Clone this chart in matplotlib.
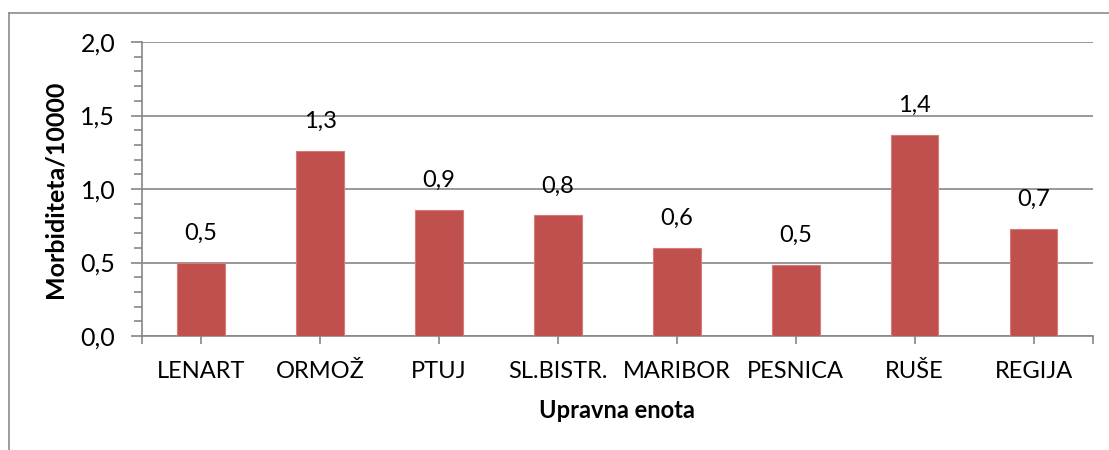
import matplotlib.pyplot as plt
from matplotlib.ticker import MultipleLocator, FixedLocator
from matplotlib.lines import Line2D

plt.rcParams['font.family'] = ['Lato', 'DejaVu Sans']

units = ['LENART', 'ORMOŽ', 'PTUJ', 'SL.BISTR.', 'MARIBOR', 'PESNICA', 'RUŠE', 'REGIJA']
values = [0.50, 1.26, 0.86, 0.82, 0.60, 0.48, 1.37, 0.73]

grey = '#868686'

fig = plt.figure(figsize=(11.09, 4.5), dpi=100)
ax = fig.add_axes([141.7 / 1109, 1 - 336 / 450, (1093 - 141.7) / 1109, (336 - 42) / 450])

x = list(range(len(units)))
bars = ax.bar(x, values, width=0.4, color='#C0504D', edgecolor='#D77B78', linewidth=0.8, zorder=3)

for xi, v in zip(x, values):
    ax.text(xi, v + 0.13, ('%.1f' % v).replace('.', ','), ha='center', va='bottom', fontsize=17)

ax.set_xlim(-0.5, len(units) - 0.5)
ax.set_ylim(0, 2.0)
ax.yaxis.set_major_locator(MultipleLocator(0.5))
ax.yaxis.set_minor_locator(MultipleLocator(0.1))
ax.set_yticklabels([('%.1f' % t).replace('.', ',') for t in ax.get_yticks()])
ax.set_xticks(x)
ax.set_xticklabels(units)
ax.xaxis.set_minor_locator(FixedLocator([-0.5, len(units) - 0.5]))

ax.grid(axis='y', which='major', color=grey, linewidth=1.2, zorder=0)
for s in ['top', 'right']:
    ax.spines[s].set_visible(False)
for s in ['left', 'bottom']:
    ax.spines[s].set_color(grey)
    ax.spines[s].set_linewidth(1.2)

ax.tick_params(axis='y', which='major', length=8, width=1.2, color=grey, labelsize=18, pad=11)
ax.tick_params(axis='y', which='minor', length=6, width=1.2, color=grey)
ax.tick_params(axis='x', which='both', length=6, width=1.2, color=grey, labelsize=17, pad=12)

ax.set_ylabel('Morbiditeta/10000', fontsize=18, fontweight='bold', labelpad=10)
ax.set_xlabel('Upravna enota', fontsize=17, fontweight='bold', labelpad=12)

# chart area border (top and left edges visible)
fig.add_artist(Line2D([9 / 1109, 1], [1 - 12.7 / 450] * 2, color='#8c8c8c', linewidth=1.2))
fig.add_artist(Line2D([9 / 1109] * 2, [0, 1 - 12.7 / 450], color='#8c8c8c', linewidth=1.2))

fig.savefig('out.png', dpi=100)
